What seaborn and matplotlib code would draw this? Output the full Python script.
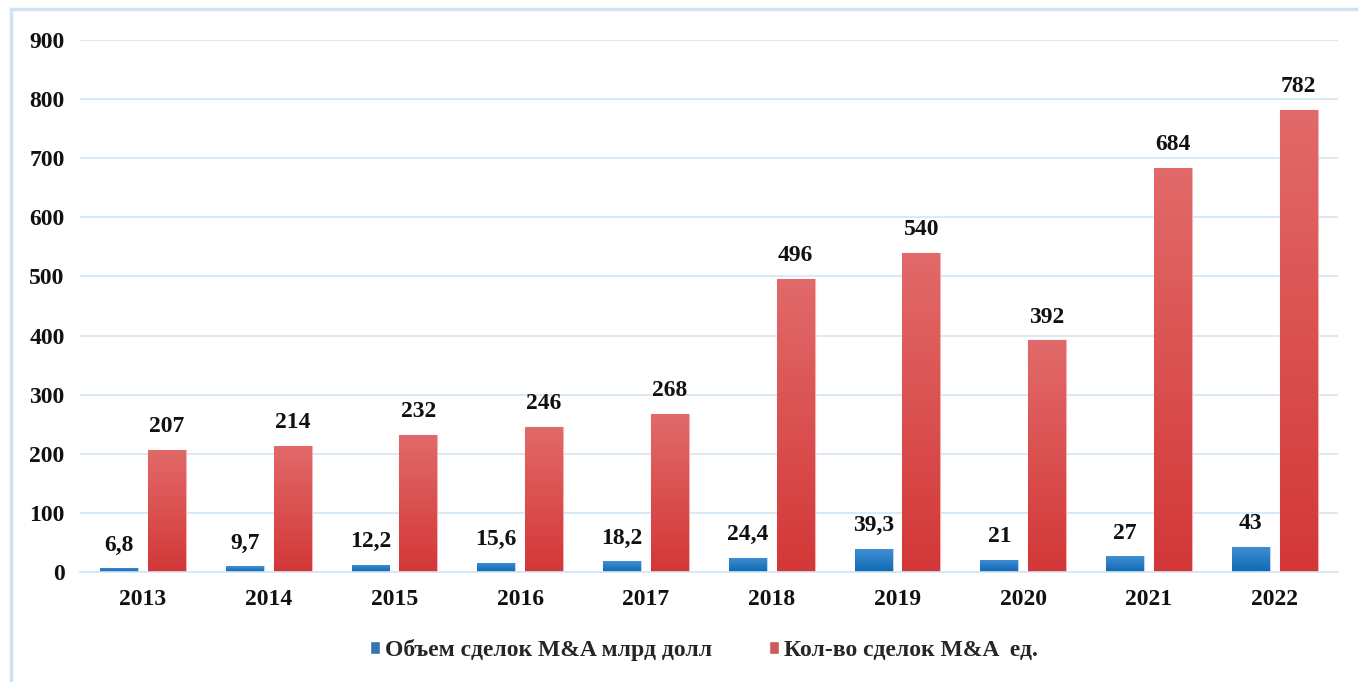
import numpy as np
import pandas as pd
import seaborn as sns
import matplotlib.pyplot as plt
from matplotlib.patches import Rectangle
from matplotlib.colors import LinearSegmentedColormap

years = ['2013', '2014', '2015', '2016', '2017', '2018', '2019', '2020', '2021', '2022']
volume = [6.8, 9.7, 12.2, 15.6, 18.2, 24.4, 39.3, 21, 27, 43]
count = [207, 214, 232, 246, 268, 496, 540, 392, 684, 782]
series = ['Объем сделок M&A млрд долл', 'Кол-во сделок M&A  ед.']

sns.set_theme(style="white")
plt.rcParams['font.family'] = ['Liberation Serif', 'DejaVu Serif']
plt.rcParams['font.weight'] = 'bold'

data = pd.DataFrame({
    'year': years * 2,
    'value': volume + count,
    'series': [series[0]] * len(years) + [series[1]] * len(years),
})

fig = plt.figure(figsize=(13.58, 6.82), dpi=100)
ax = fig.add_axes([0.0589, 0.1613, 0.9261, 0.78])

palette = {series[0]: '#1f77c4', series[1]: '#e04848'}
sns.barplot(data=data, x='year', y='value', hue='series', palette=palette,
            width=0.76, gap=0.205, ax=ax, legend=True)

grads = {
    series[0]: LinearSegmentedColormap.from_list('b', ['#0d69b4', '#4390d2']),
    series[1]: LinearSegmentedColormap.from_list('r', ['#d33737', '#e26a6a']),
}
edges = {series[0]: '#bcd8ef', series[1]: '#f2b3b3'}
fs = 17

bars = [p for p in ax.patches if p.get_height() > 0]
grad = np.linspace(0, 1, 256).reshape(-1, 1)
for i, p in enumerate(bars):
    s = series[0] if i < len(years) else series[1]
    x0, y0 = p.get_x(), p.get_y()
    w, h = p.get_width(), p.get_height()
    p.set_edgecolor(edges[s])
    p.set_linewidth(0.8)
    im = ax.imshow(grad, cmap=grads[s], origin='lower', aspect='auto',
                   extent=[x0, x0 + w, y0, y0 + h], zorder=p.get_zorder() + 0.1)
    im.set_clip_path(p)
    vals = volume if s == series[0] else count
    v = vals[i % len(years)]
    ax.annotate(f"{v:g}".replace('.', ','), (x0 + w / 2, y0 + h),
                xytext=(0, 9), textcoords='offset points', ha='center', va='bottom',
                fontsize=fs, fontweight='bold', color='#111111')

ax.set_xlim(-0.5, len(years) - 0.5)
ax.set_ylim(0, 900)
ax.set_yticks(range(0, 901, 100))
ax.set_xlabel('')
ax.set_ylabel('')
ax.grid(axis='y', color='#d3e5f5', linewidth=1.2)
ax.set_axisbelow(True)
for sp in ['top', 'right', 'left']:
    ax.spines[sp].set_visible(False)
ax.spines['bottom'].set_color('#d3e5f5')
ax.spines['bottom'].set_linewidth(1.2)
ax.tick_params(axis='y', length=0, pad=11, labelsize=fs, labelcolor='#111111')
ax.tick_params(axis='x', length=0, pad=12, labelsize=fs, labelcolor='#111111')
for t in ax.get_xticklabels() + ax.get_yticklabels():
    t.set_fontweight('bold')

handles, labels = ax.get_legend_handles_labels()
ax.legend(handles, labels, loc='center', bbox_to_anchor=(0.496, -0.147),
          ncol=2, frameon=False, handlelength=0.45, handleheight=0.45,
          handletextpad=0.2, columnspacing=2.4,
          prop={'family': 'Liberation Serif', 'weight': 'bold', 'size': fs})

fig.patches.append(Rectangle((0.0081, -0.1), 1.2, 1.0868, transform=fig.transFigure,
                             fill=False, edgecolor='#cfe2f3', linewidth=2.5))

fig.savefig('out.png', dpi=100)
